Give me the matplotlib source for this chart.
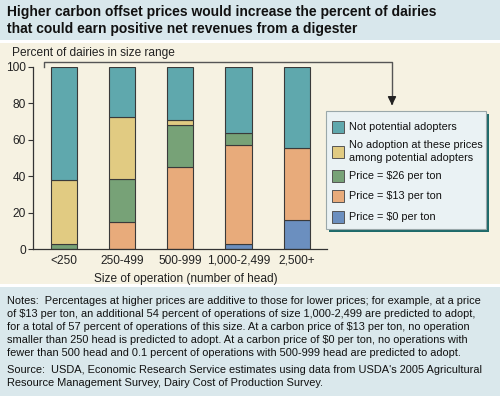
import matplotlib
matplotlib.use("Agg")
import matplotlib.pyplot as plt
from matplotlib.patches import Rectangle
import numpy as np

plt.rcParams['font.family'] = ['Liberation Sans', 'DejaVu Sans']

categories = ["<250", "250-499", "500-999", "1,000-2,499", "2,500+"]
price0 = [0.0, 0.0, 0.1, 3.0, 16.0]
price13 = [0.0, 15.0, 45.1, 54.0, 39.5]
price26 = [2.6, 23.6, 22.8, 6.6, 0.0]
no_adopt = [35.4, 34.0, 3.1, 0.0, 0.0]
not_potential = [62.0, 27.4, 28.9, 36.4, 44.5]

series_names = ["Price = $0 per ton", "Price = $13 per ton", "Price = $26 per ton",
                "No adoption at these prices\namong potential adopters", "Not potential adopters"]
series_vals = [price0, price13, price26, no_adopt, not_potential]
colors = ["#6b8fbf", "#e8ab7b", "#77a277", "#e1cb82", "#5fa8ad"]

title = "Higher carbon offset prices would increase the percent of dairies\nthat could earn positive net revenues from a digester"
ylabel = "Percent of dairies in size range"
xlabel = "Size of operation (number of head)"
notes = ("Notes:  Percentages at higher prices are additive to those for lower prices; for example, at a price\n"
         "of $13 per ton, an additional 54 percent of operations of size 1,000-2,499 are predicted to adopt,\n"
         "for a total of 57 percent of operations of this size. At a carbon price of $13 per ton, no operation\n"
         "smaller than 250 head is predicted to adopt. At a carbon price of $0 per ton, no operations with\n"
         "fewer than 500 head and 0.1 percent of operations with 500-999 head are predicted to adopt.")
source = ("Source:  USDA, Economic Research Service estimates using data from USDA's 2005 Agricultural\n"
          "Resource Management Survey, Dairy Cost of Production Survey.")

W, H = 500, 396
fig = plt.figure(figsize=(W / 100, H / 100), dpi=100)
fig.patch.set_facecolor("white")

# overlay axes in pixel coordinates
ov = fig.add_axes([0, 0, 1, 1])
ov.set_xlim(0, W)
ov.set_ylim(H, 0)
ov.axis("off")

ov.add_patch(Rectangle((0, 0), W, 40, facecolor="#d8e7ec", edgecolor="none"))
ov.add_patch(Rectangle((0, 42.5), W, 241.5, facecolor="#f6f2e2", edgecolor="none"))
ov.add_patch(Rectangle((0, 287), W, 109, facecolor="#dae8ec", edgecolor="none"))

ov.text(7, 20.5, title, fontsize=10.0, fontweight="bold", color="#111111",
        va="center", ha="left", linespacing=1.32)
ov.text(12, 53, ylabel, fontsize=8.6, color="#222222", va="center", ha="left")
ov.text(7, 327, notes, fontsize=7.9, color="#111111", va="center", ha="left", linespacing=1.4)
ov.text(7, 376.5, source, fontsize=7.9, color="#111111", va="center", ha="left", linespacing=1.4)

# bracket + arrow
ov.plot([44, 44, 392, 392], [67, 62, 62, 103], color="#555555", lw=1.0)
ov.annotate("", xy=(392, 108), xytext=(392, 100),
            arrowprops=dict(arrowstyle="-|>,head_width=0.25,head_length=0.5", color="#222222", lw=1.0))

# legend box with shadow
lx0, ly0, lx1, ly1 = 326, 111, 486, 229
ov.add_patch(Rectangle((lx0 + 3, ly0 + 3), lx1 - lx0, ly1 - ly0, facecolor="#1e6a6a", edgecolor="none"))
ov.add_patch(Rectangle((lx0, ly0), lx1 - lx0, ly1 - ly0, facecolor="#eaf2f4", edgecolor="#9aa8aa", lw=0.8))
leg_y = [216.5, 196, 176, 151.5, 127.3]
for name, c, yc in zip(series_names, colors, leg_y):
    ov.add_patch(Rectangle((332, yc - 6), 12, 12, facecolor=c, edgecolor="#555555", lw=0.7))
    ov.text(349, yc, name, fontsize=7.85, color="#111111", va="center", ha="left", linespacing=1.32)

# main axes
ax_l, ax_r, ax_t, ax_b = 33, 327, 67, 249
ax = fig.add_axes([ax_l / W, 1 - ax_b / H, (ax_r - ax_l) / W, (ax_b - ax_t) / H])
ax.patch.set_alpha(0)
x = np.arange(len(categories))
bottom = np.zeros(len(categories))
for vals, c in zip(series_vals, colors):
    vals = np.array(vals)
    for i in range(len(categories)):
        if vals[i] > 0:
            ax.bar(x[i], vals[i], bottom=bottom[i], width=0.447, color=c,
                   edgecolor="#3a3a3a", linewidth=0.8)
    bottom += vals

ax.set_xlim(-0.53, 4.52)
ax.set_ylim(0, 100)
ax.set_yticks([0, 20, 40, 60, 80, 100])
ax.set_xticks(x)
ax.set_xticklabels(categories)
ax.tick_params(axis="y", length=3.5, width=0.8, color="#333333", labelsize=8.6, pad=1.5, labelcolor="#222222")
ax.tick_params(axis="x", length=0, labelsize=8.6, pad=4, labelcolor="#222222")
for s in ["top", "right"]:
    ax.spines[s].set_visible(False)
for s in ["left", "bottom"]:
    ax.spines[s].set_color("#333333")
    ax.spines[s].set_linewidth(0.9)
ax.set_xlabel(xlabel, fontsize=8.6, color="#222222", labelpad=3)
ax.xaxis.set_label_coords((186 - ax_l) / (ax_r - ax_l), -(273 - ax_b) / (ax_b - ax_t))

fig.savefig("out.png", dpi=100)
